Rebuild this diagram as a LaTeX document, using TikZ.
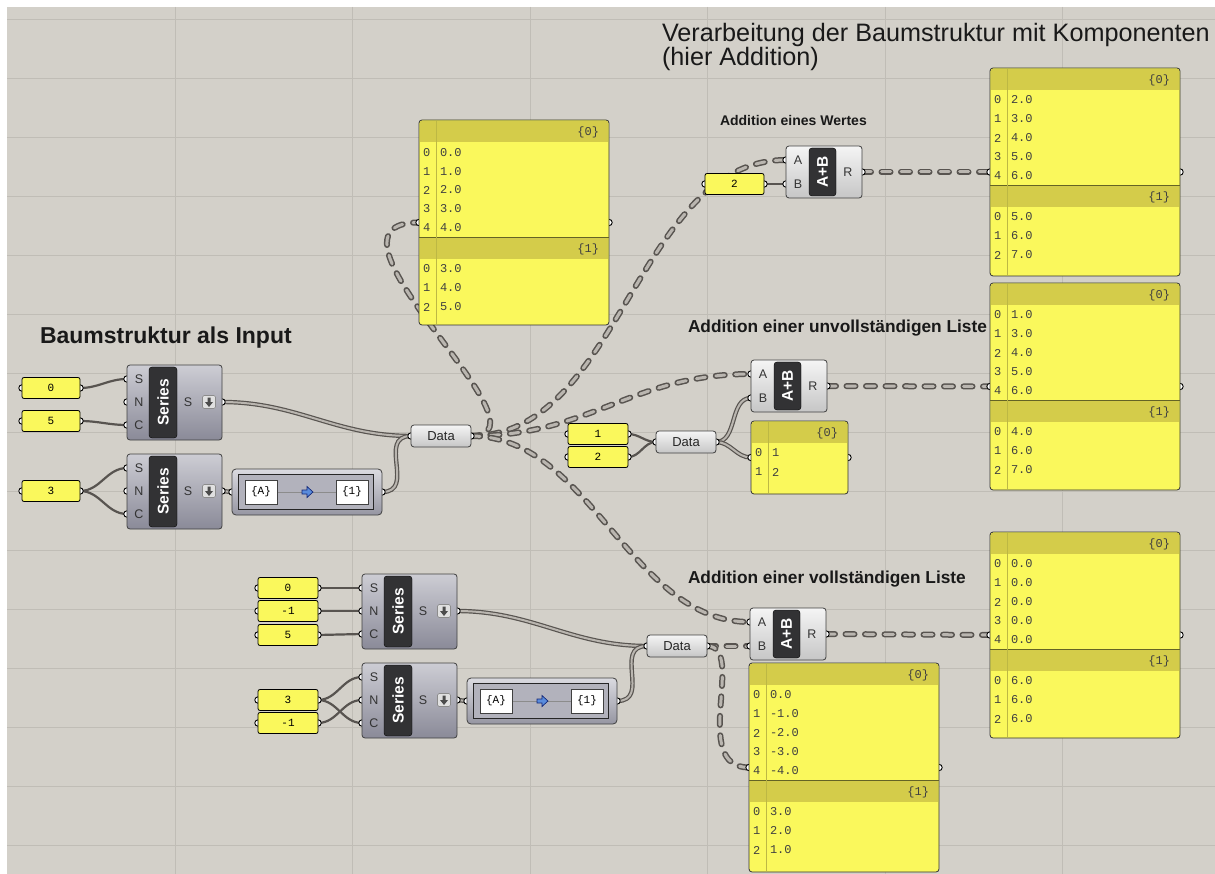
\documentclass[tikz,border=0pt]{standalone}
\usepackage{fontspec}
\setmainfont{Liberation Sans}
\newfontfamily\monof{Liberation Mono}
\usetikzlibrary{calc}
\pgfdeclarelayer{bglayer}
\pgfdeclarelayer{wirelayer}
\pgfsetlayers{bglayer,wirelayer,main}
\definecolor{bg}{RGB}{211,208,201}
\definecolor{gridc}{RGB}{192,189,182}
\definecolor{wdark}{RGB}{88,84,80}
\definecolor{wlight}{RGB}{186,182,176}
\definecolor{serTop}{RGB}{205,205,212}
\definecolor{serBot}{RGB}{138,138,152}
\definecolor{lightBot}{RGB}{198,198,198}
\definecolor{darkl}{RGB}{50,50,52}
\definecolor{pyel}{RGB}{250,248,92}
\definecolor{phead}{RGB}{212,204,74}
\definecolor{pcol}{RGB}{222,216,80}
\definecolor{mapTop}{RGB}{218,218,224}
\definecolor{mapBot}{RGB}{150,150,162}
\definecolor{mapIn}{RGB}{178,178,188}
\definecolor{arrblue}{RGB}{90,140,220}
\definecolor{arrdark}{RGB}{20,40,120}
\tikzset{
  every node/.style={outer sep=0pt},
  numstyle/.style={draw=black, line width=0.8pt, fill=pyel, rounded corners=2pt, minimum height=21, inner sep=0pt, font=\monof\fontsize{11}{11}\selectfont},
  panelbox/.style={draw=black!80, line width=0.8pt, fill=pyel, rounded corners=3pt, inner sep=0pt},
  serbody/.style={draw=black!75, line width=0.8pt, rounded corners=3pt, top color=serTop, bottom color=serBot, inner sep=0pt},
  lightbody/.style={draw=black!75, line width=0.8pt, rounded corners=3pt, top color=white!96!black, bottom color=lightBot, inner sep=0pt},
  mapbody/.style={draw=black!75, line width=0.8pt, rounded corners=4pt, top color=mapTop, bottom color=mapBot, inner sep=0pt},
  darklbl/.style={fill=darkl, draw=black, rounded corners=3pt, inner sep=0pt},
  iconbox/.style={draw=black!45, fill=white!88!black, rounded corners=1.5pt, inner sep=0pt, line width=0.6pt},
  itemw/.style={draw=wdark, line width=2.2pt},
  listw/.style={draw=wdark, line width=1.2pt, double=wlight, double distance=2pt},
  treew/.style={draw=wdark, line width=1.5pt, double=wlight, double distance=3pt, dash pattern=on 9pt off 10.5pt, line cap=round},
  lbl/.style={font=\fontsize{12.5}{12.5}\selectfont, text=black!80, inner sep=0pt},
  vlbl/.style={rotate=90, text=white, font=\bfseries\fontsize{15.5}{15.5}\selectfont, inner sep=0pt},
  ptext/.style={font=\monof\fontsize{12}{12}\selectfont, text=black!75, inner sep=0pt, anchor=west},
  headA/.style={font=\fontsize{25.2}{25.2}\selectfont, text=black!90, inner sep=0pt, anchor=base west},
  headB/.style={font=\bfseries\fontsize{23}{23}\selectfont, text=black!90, inner sep=0pt, anchor=base west},
  headC/.style={font=\bfseries\fontsize{17.3}{17.3}\selectfont, text=black!90, inner sep=0pt, anchor=base west},
  headD/.style={font=\bfseries\fontsize{14}{14}\selectfont, text=black!90, inner sep=0pt, anchor=base west},
}
\newcommand\grip[1]{\filldraw[fill=white, draw=black, line width=0.9pt] (#1) circle (3.2pt);}
\newcommand\numbox[5]{%
  \coordinate (#1-in) at (#2,#3);
  \coordinate (#1-out) at (#2+#4,#3);
  \grip{#1-in}\grip{#1-out}
  \node[numstyle, minimum width=#4, anchor=west] (#1) at (#1-in) {#5};}
\newcommand\seriesc[3]{%
  \coordinate (#1-S) at (#2,#3+14);
  \coordinate (#1-N) at (#2,#3+37);
  \coordinate (#1-C) at (#2,#3+60);
  \coordinate (#1-out) at (#2+95,#3+37);
  \grip{#1-S}\grip{#1-N}\grip{#1-C}\grip{#1-out}
  \node[serbody, minimum width=95, minimum height=75, anchor=north west] (#1) at (#2,#3) {};
  \node[darklbl, minimum width=28, minimum height=71, anchor=north west] (#1-l) at (#2+22,#3+2) {};
  \node[vlbl] at (#1-l.center) {Series};
  \node[lbl] at (#2+12,#3+14) {S};
  \node[lbl] at (#2+12,#3+37) {N};
  \node[lbl] at (#2+12,#3+60) {C};
  \node[lbl] at (#2+61,#3+37) {S};
  \node[iconbox, minimum width=13, minimum height=13] (#1-i) at (#2+82,#3+37) {};
  \fill[black!70] ($(#1-i.center)+(-1.5,-4.5)$) -- ++(3,0) -- ++(0,4.5) -- ++(2.5,0)
     -- ($(#1-i.center)+(0,5)$) -- ($(#1-i.center)+(-4,0)$) -- ++(2.5,0) -- cycle;}
\newcommand\addc[3]{%
  \coordinate (#1-A) at (#2,#3+14);
  \coordinate (#1-B) at (#2,#3+38);
  \coordinate (#1-R) at (#2+76,#3+26);
  \grip{#1-A}\grip{#1-B}\grip{#1-R}
  \node[lightbody, minimum width=76, minimum height=52, anchor=north west] (#1) at (#2,#3) {};
  \node[darklbl, minimum width=27, minimum height=48, anchor=north west] (#1-l) at (#2+23,#3+2) {};
  \node[vlbl] at (#1-l.center) {A+B};
  \node[lbl] at (#2+12,#3+14) {A};
  \node[lbl] at (#2+12,#3+38) {B};
  \node[lbl] at (#2+62,#3+26) {R};}
\newcommand\datac[3]{%
  \coordinate (#1-in) at (#2-30,#3);
  \coordinate (#1-out) at (#2+30,#3);
  \grip{#1-in}\grip{#1-out}
  \node[lightbody, minimum width=60, minimum height=22, font=\fontsize{13}{13}\selectfont, text=black!85] (#1) at (#2,#3) {Data};}
\newcommand\mapperc[3]{%
  \coordinate (#1-in) at (#2,#3);
  \coordinate (#1-out) at (#2+150,#3);
  \grip{#1-in}\grip{#1-out}
  \node[mapbody, minimum width=150, minimum height=46, anchor=west] (#1) at (#2,#3) {};
  \node[draw=black!85, line width=0.9pt, fill=mapIn, minimum width=135, minimum height=35, anchor=west, inner sep=0pt] (#1-b) at (#2+6,#3) {};
  \draw[black!45, line width=0.8pt] (#2+45,#3) -- (#2+105,#3);
  \node[draw=black!75, fill=white, minimum width=32, minimum height=24, inner sep=0pt, font=\monof\fontsize{11}{11}\selectfont] (#1-a) at (#2+29,#3) {\{A\}};
  \node[draw=black!75, fill=white, minimum width=32, minimum height=24, inner sep=0pt, font=\monof\fontsize{11}{11}\selectfont] (#1-c) at (#2+120,#3) {\{1\}};
  \filldraw[fill=arrblue, draw=arrdark, line width=0.7pt] (#2+70,#3-2) -- (#2+75,#3-2) -- (#2+75,#3-5.5) -- (#2+81,#3) -- (#2+75,#3+5.5) -- (#2+75,#3+2) -- (#2+70,#3+2) -- cycle;}
\newcommand\panelc[5]{%
  \coordinate (#1-in) at (#2,#3+#5/2);
  \coordinate (#1-out) at (#2+#4,#3+#5/2);
  \grip{#1-in}\grip{#1-out}
  \node[panelbox, minimum width=#4, minimum height=#5, anchor=north west] (#1) at (#2,#3) {};}
\newcommand\phdr[4]{%
  \fill[phead] (#1+0.8,#2+0.8) rectangle (#1+#3-0.8,#2+22);
  \node[ptext, anchor=east] at (#1+#3-10,#2+12) {\{#4\}};}
\newcommand\psep[3]{\draw[black!60!pyel, line width=0.8pt] (#1,#2) -- (#1+#3,#2);}
\newcommand\pcolumn[3]{\draw[pcol!85!black, line width=0.5pt] (#1+17,#2+1) -- (#1+17,#2+#3-1);}
\newcommand\prow[4]{\node[ptext] at (#1+4,#2) {#3}; \node[ptext] at (#1+21,#2) {#4};}
\newcommand\bigpanel[4]{% name x y h
  \panelc{#1}{#2}{#3}{190}{#4}
  \phdr{#2}{#3}{190}{0}
  \psep{#2}{#3+117}{190}
  \phdr{#2}{#3+117}{190}{1}
  \pcolumn{#2}{#3}{#4}}
\begin{document}
\begin{tikzpicture}[x=1pt,y=-1pt]
\useasboundingbox (0,0) rectangle (1215,874);
\begin{pgfonlayer}{bglayer}
  \fill[white] (0,0) rectangle (1215,874);
  \fill[bg] (7,7) rectangle (1215,874);
  \foreach \gx in {175,352,530,707,885,1062} {\draw[gridc, line width=0.8pt] (\gx,7) -- (\gx,874);}
  \foreach \gy in {19,78,137,196,255,314,373,432,491,550,609,668,727,786,845} {\draw[gridc, line width=0.8pt] (7,\gy) -- (1215,\gy);}
\end{pgfonlayer}

% headings
\node[headA] (t1) at (662,42) {Verarbeitung der Baumstruktur mit Komponenten};
\node[headA] (t2) at (662,66) {(hier Addition)};
\node[headB] (t3) at (40,344) {Baumstruktur als Input};
\node[headD] (t4) at (720,126) {Addition eines Wertes};
\node[headC] (t5) at (688,333) {Addition einer unvollständigen Liste};
\node[headC] (t6) at (688,583) {Addition einer vollständigen Liste};

% number boxes
\numbox{n0}{22}{388}{58}{0}
\numbox{n5}{22}{421}{58}{5}
\numbox{n3}{22}{491}{58}{3}
\numbox{nt2}{705}{184}{59}{2}
\numbox{nm1}{568}{434}{60}{1}
\numbox{nm2}{568}{457}{60}{2}
\numbox{nb0}{258}{588}{60}{0}
\numbox{nbm}{258}{611}{60}{-1}
\numbox{nb5}{258}{635}{60}{5}
\numbox{nb3}{258}{700}{60}{3}
\numbox{nbn}{258}{723}{60}{-1}

% components
\seriesc{s1}{127}{365}
\seriesc{s2}{127}{454}
\mapperc{m1}{232}{492}
\datac{d1}{441}{436}
\seriesc{sb1}{362}{574}
\seriesc{sb2}{362}{663}
\mapperc{mb}{467}{701}
\datac{d3}{677}{646}
\datac{d2}{686}{442}
\addc{a1}{786}{146}
\addc{a2}{751}{360}
\addc{a3}{750}{608}

% panels
\bigpanel{p1}{419}{120}{205}
\prow{419}{153}{0}{0.0}
\prow{419}{172}{1}{1.0}
\prow{419}{190}{2}{2.0}
\prow{419}{209}{3}{3.0}
\prow{419}{228}{4}{4.0}
\prow{419}{269}{0}{3.0}
\prow{419}{288}{1}{4.0}
\prow{419}{307}{2}{5.0}

\bigpanel{ptr}{990}{68}{208}
\prow{990}{100}{0}{2.0}
\prow{990}{119}{1}{3.0}
\prow{990}{138}{2}{4.0}
\prow{990}{157}{3}{5.0}
\prow{990}{176}{4}{6.0}
\prow{990}{217}{0}{5.0}
\prow{990}{236}{1}{6.0}
\prow{990}{255}{2}{7.0}

\bigpanel{pmr}{990}{283}{207}
\prow{990}{315}{0}{1.0}
\prow{990}{334}{1}{3.0}
\prow{990}{353}{2}{4.0}
\prow{990}{372}{3}{5.0}
\prow{990}{391}{4}{6.0}
\prow{990}{432}{0}{4.0}
\prow{990}{451}{1}{6.0}
\prow{990}{470}{2}{7.0}

\bigpanel{pbr}{990}{532}{206}
\prow{990}{564}{0}{0.0}
\prow{990}{583}{1}{0.0}
\prow{990}{602}{2}{0.0}
\prow{990}{621}{3}{0.0}
\prow{990}{640}{4}{0.0}
\prow{990}{681}{0}{6.0}
\prow{990}{700}{1}{6.0}
\prow{990}{719}{2}{6.0}

\bigpanel{pbm}{749}{663}{209}
\prow{749}{695}{0}{0.0}
\prow{749}{714}{1}{-1.0}
\prow{749}{733}{2}{-2.0}
\prow{749}{752}{3}{-3.0}
\prow{749}{771}{4}{-4.0}
\prow{749}{812}{0}{3.0}
\prow{749}{831}{1}{2.0}
\prow{749}{850}{2}{1.0}

\panelc{psm}{751}{421}{97}{73}
\phdr{751}{421}{97}{0}
\pcolumn{751}{421}{73}
\node[ptext] at (755,453) {0}; \node[ptext] at (772,453) {1};
\node[ptext] at (755,472) {1}; \node[ptext] at (772,472) {2};

% wires
\begin{pgfonlayer}{wirelayer}
  \draw[itemw] (n0-out) to[out=0,in=180] (s1-S);
  \draw[itemw] (n5-out) to[out=0,in=180] (s1-C);
  \draw[itemw] (n3-out) to[out=0,in=180] (s2-S);
  \draw[itemw] (n3-out) to[out=0,in=180] (s2-C);
  \draw[listw] (s1-out) to[out=0,in=180] (d1-in);
  \draw[listw] (s2-out) -- (m1-in);
  \draw[listw] (m1-out) to[out=0,in=180,looseness=1.4] (d1-in);
  \draw[treew] (d1-out) .. controls ($(d1-out)+(90,0)$) and ($(p1-in)+(-120,0)$) .. (p1-in);
  \draw[treew] (d1-out) .. controls ($(d1-out)+(150,0)$) and ($(a1-A)+(-150,0)$) .. (a1-A);
  \draw[treew] (d1-out) .. controls ($(d1-out)+(120,0)$) and ($(a2-A)+(-120,0)$) .. (a2-A);
  \draw[treew] (d1-out) .. controls ($(d1-out)+(120,0)$) and ($(a3-A)+(-120,0)$) .. (a3-A);
  \draw[itemw] (nt2-out) -- (a1-B);
  \draw[treew] (a1-R) -- (ptr-in);
  \draw[itemw] (nm1-out) to[out=0,in=180] (d2-in);
  \draw[itemw] (nm2-out) to[out=0,in=180] (d2-in);
  \draw[listw] (d2-out) to[out=0,in=180] (a2-B);
  \draw[listw] (d2-out) to[out=0,in=180] (psm-in);
  \draw[treew] (a2-R) -- (pmr-in);
  \draw[itemw] (nb0-out) -- (sb1-S);
  \draw[itemw] (nbm-out) -- (sb1-N);
  \draw[itemw] (nb5-out) -- (sb1-C);
  \draw[itemw] (nb3-out) to[out=0,in=180] (sb2-S);
  \draw[itemw] (nb3-out) to[out=0,in=180] (sb2-C);
  \draw[itemw] (nbn-out) to[out=0,in=180] (sb2-N);
  \draw[listw] (sb1-out) to[out=0,in=180] (d3-in);
  \draw[listw] (sb2-out) -- (mb-in);
  \draw[listw] (mb-out) to[out=0,in=180,looseness=1.4] (d3-in);
  \draw[treew] (d3-out) to[out=0,in=180] (a3-B);
  \draw[treew] (d3-out) .. controls ($(d3-out)+(40,0)$) and ($(pbm-in)+(-60,0)$) .. (pbm-in);
  \draw[treew] (a3-R) -- (pbr-in);
\end{pgfonlayer}
\end{tikzpicture}
\end{document}
